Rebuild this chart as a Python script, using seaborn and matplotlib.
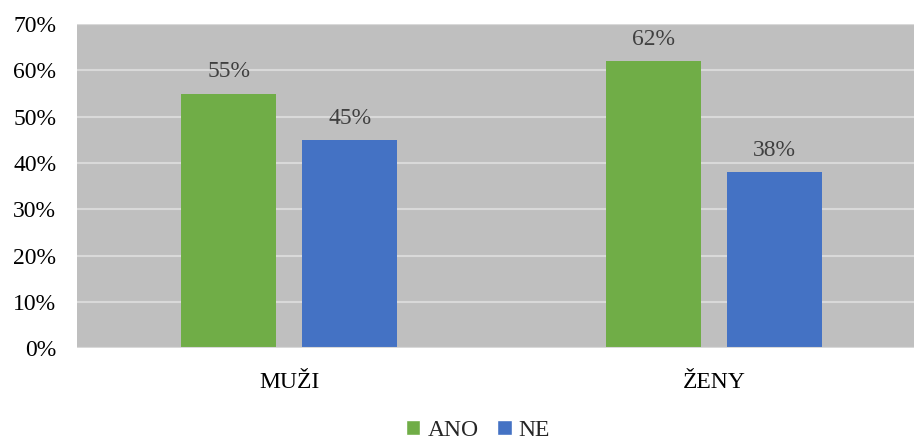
import matplotlib
matplotlib.use("Agg")
import matplotlib.pyplot as plt
import seaborn as sns
import pandas as pd
from matplotlib.ticker import PercentFormatter
from matplotlib.patches import Patch

categories = ["MUŽI", "ŽENY"]
series_names = ["ANO", "NE"]
ano_values = [55, 62]
ne_values = [45, 38]
y_ticks = [0, 10, 20, 30, 40, 50, 60, 70]

colors = {"ANO": "#70AD47", "NE": "#4472C4"}

df = pd.DataFrame({
    "kategorie": categories * 2,
    "odpoved": [series_names[0]] * len(categories) + [series_names[1]] * len(categories),
    "hodnota": ano_values + ne_values,
})

sns.set_theme(style="white")
plt.rcParams["font.family"] = ["Liberation Serif", "DejaVu Serif"]

fig = plt.figure(figsize=(9.14, 4.4), dpi=100)
ax = fig.add_axes([0.0842, 0.209, 0.929, 0.736])
ax.set_facecolor("#BFBFBF")

sns.barplot(data=df, x="kategorie", y="hodnota", hue="odpoved",
            palette=colors, width=0.57, gap=0.215, ax=ax,
            order=categories, hue_order=series_names, legend=False,
            saturation=1, linewidth=0)

ax.set_ylim(0, 70)
ax.set_xlim(-0.5, 1.5)
ax.set_yticks(y_ticks)
ax.yaxis.set_major_formatter(PercentFormatter(decimals=0))
ax.grid(axis="y", color="#D9D9D9", linewidth=1.5)
ax.set_axisbelow(True)
for s in ax.spines.values():
    s.set_visible(False)
ax.axhline(70, color="#D9D9D9", linewidth=1.5, zorder=0.5)
ax.axhline(0, color="#D9D9D9", linewidth=1.5, zorder=3)

ax.set_xlabel("")
ax.set_ylabel("")
ax.tick_params(axis="both", length=0, labelsize=17, colors="black")
ax.tick_params(axis="y", pad=15)
ax.tick_params(axis="x", pad=17)

for container in ax.containers:
    ax.bar_label(container, labels=[f"{v:.0f}%" for v in container.datavalues],
                 padding=8, fontsize=17, color="#404040")

handles = [Patch(facecolor=colors[n], label=n) for n in series_names]
fig.legend(handles=handles, loc="lower center", bbox_to_anchor=(0.523, -0.05),
           ncol=2, frameon=False, fontsize=17, handlelength=0.6,
           handleheight=0.6, handletextpad=0.3, columnspacing=0.8)

fig.savefig("out.png", dpi=100)
